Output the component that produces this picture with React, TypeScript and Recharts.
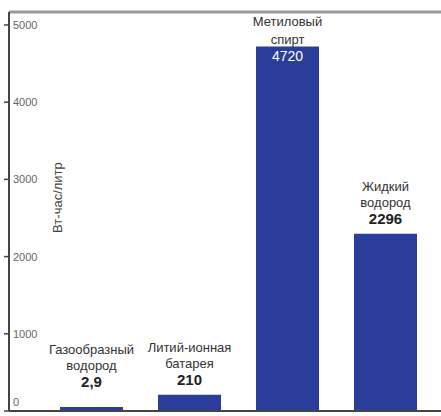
import React from 'react';
import { BarChart, Bar, XAxis, YAxis, LabelList, ReferenceLine } from 'recharts';

const categories = ['Газообразный водород', 'Литий-ионная батарея', 'Метиловый спирт', 'Жидкий водород'];
const nameLine1 = ['Газообразный', 'Литий-ионная', 'Метиловый', 'Жидкий'];
const nameLine2 = ['водород', 'батарея', 'спирт', 'водород'];
const values = [2.9, 210, 4720, 2296];
const valueLabels = ['2,9', '210', '4720', '2296'];
const yTicks = [0, 1000, 2000, 3000, 4000, 5000];
const yMax = 5168;
const yAxisTitle = 'Вт-час/литр';

const data = categories.map((c, i) => ({ name: c, value: values[i], idx: i }));

const BAR_COLOR = '#2a3d9b';
const FONT = '"Liberation Sans", Arial, sans-serif';

const YTick = (props: any) => {
  const { x, y, payload } = props;
  const isZero = payload.value === 0;
  return (
    <g>
      <line x1={x - 5} x2={x} y1={y} y2={y} stroke="#444" strokeWidth={1.5} />
      <text x={x + 4} y={isZero ? y - 5 : y + 4} fontSize={11} fill="#666" fontFamily={FONT}>
        {payload.value}
      </text>
    </g>
  );
};

const BarLabel = (props: any) => {
  const { x, y, width, value } = props;
  const i = value as number;
  const cx = x + width / 2;
  const inside = y - 56 < 12;
  if (inside) {
    return (
      <g fontFamily={FONT}>
        <text x={cx} y={y - 21} textAnchor="middle" fontSize={13} fill="#333">{nameLine1[i]}</text>
        <text x={cx} y={y - 3} textAnchor="middle" fontSize={13} fill="#333">{nameLine2[i]}</text>
        <text x={cx} y={y + 14} textAnchor="middle" fontSize={14} fill="#fff">{valueLabels[i]}</text>
      </g>
    );
  }
  const anchor = Math.min(y, 397);
  return (
    <g fontFamily={FONT}>
      <text x={cx} y={anchor - 43} textAnchor="middle" fontSize={13} fill="#333">{nameLine1[i]}</text>
      <text x={cx} y={anchor - 27} textAnchor="middle" fontSize={13} fill="#333">{nameLine2[i]}</text>
      <text x={cx} y={anchor - 10} textAnchor="middle" fontSize={15} fontWeight="bold" fill="#222">{valueLabels[i]}</text>
    </g>
  );
};

const YTitle = (props: any) => {
  const { viewBox } = props;
  const x = viewBox.x + viewBox.width + 53;
  const y = viewBox.y + viewBox.height * 0.465;
  return (
    <text x={x} y={y} transform={`rotate(-90, ${x}, ${y})`} textAnchor="middle" fontSize={13} fill="#444" fontFamily={FONT}>
      {yAxisTitle}
    </text>
  );
};

export default function App() {
  return (
    <div style={{ position: 'absolute', left: 0, top: 0, width: 441, height: 416, background: '#fff' }}>
      <BarChart width={441} height={416} data={data} margin={{ top: 12, right: 0, bottom: 4, left: 0 }}>
        <XAxis
          dataKey="name"
          tick={false}
          tickLine={false}
          height={1}
          axisLine={{ stroke: '#444', strokeWidth: 2 }}
          padding={{ left: 33, right: 7 }}
        />
        <YAxis
          type="number"
          domain={[0, yMax]}
          ticks={yTicks}
          interval={0}
          width={9}
          tickSize={0}
          tickMargin={0}
          tick={<YTick />}
          axisLine={{ stroke: '#444', strokeWidth: 2 }}
          allowDataOverflow
          label={<YTitle />}
        />
        <ReferenceLine y={yMax} stroke="#999" strokeWidth={3} />
        <Bar dataKey="value" fill={BAR_COLOR} barSize={63} minPointSize={4} isAnimationActive={false}>
          <LabelList dataKey="idx" content={<BarLabel />} />
        </Bar>
      </BarChart>
    </div>
  );
}
